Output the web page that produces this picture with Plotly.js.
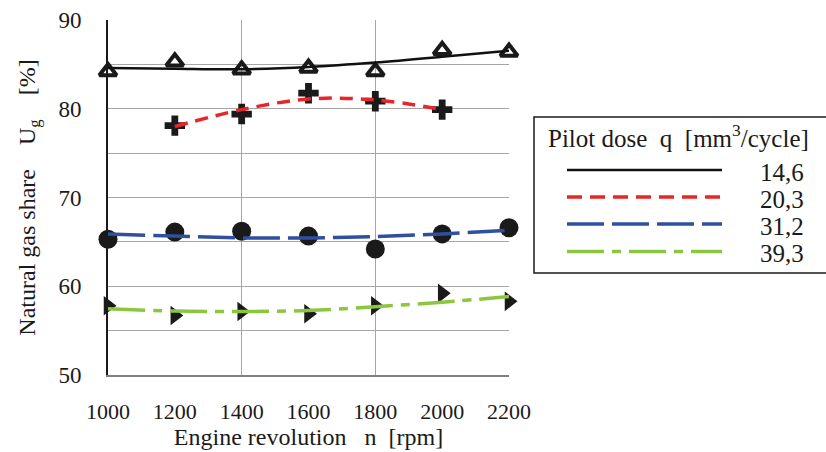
<!DOCTYPE html>
<html>
<head>
<meta charset="utf-8">
<script src="https://cdn.plot.ly/plotly-3.0.1.min.js"></script>
<style>
  html, body { margin: 0; padding: 0; background: #fff; }
  #chart { width: 826px; height: 452px; }
</style>
</head>
<body>
<div id="chart"></div>
<script>
// Engine speed points [rpm]
const rpm = [1000, 1200, 1400, 1600, 1800, 2000, 2200];
const rpm203 = [1200, 1400, 1600, 1800, 2000];

// Measured natural gas share U_g [%] for each pilot dose
const meas146 = [84.2, 85.3, 84.4, 84.6, 84.2, 86.6, 86.4];
const meas203 = [78.1, 79.4, 81.75, 80.85, 79.9];
const meas312 = [65.3, 66.1, 66.2, 65.65, 64.2, 65.9, 66.6];
const meas393 = [57.8, 56.7, 57.15, 56.9, 57.8, 59.2, 58.3];

// Trend curves through the measured points
const trend146 = [84.6, 84.5, 84.45, 84.7, 85.2, 85.85, 86.55];
const trend203 = [78.0, 79.9, 81.1, 81.0, 79.9];
const trend312 = [65.9, 65.65, 65.45, 65.45, 65.6, 65.9, 66.3];
const trend393 = [57.46, 57.2, 57.15, 57.27, 57.7, 58.2, 58.85];

// Legend entries
const doseLabels = ['14,6', '20,3', '31,2', '39,3'];
const legendTitle = 'Pilot dose\u00A0\u00A0q\u00A0\u00A0[mm<sup>3</sup>/cycle]';

const xTicks = [1000, 1200, 1400, 1600, 1800, 2000, 2200];
const xGrid = [1400, 1800, 2200];

const FONT = 'Liberation Serif, Times New Roman, serif';
const INK = '#1a1a1a';
const colors = ['#111111', '#e8262a', '#2f4f9f', '#8cc63f'];
const dashes = ['solid', '13px,8px', '37px,8px', '37px,8px,9px,8px'];
const legendDashes = ['solid', '15px,8px', '37px,8px', '37px,8px,9px,8px'];

const W = 826, H = 452;
const M = { l: 108, r: 317, t: 20, b: 77 };
const pw = W - M.l - M.r, ph = H - M.t - M.b;
const px = x => (x - M.l) / pw;
const py = y => (H - M.b - y) / ph;

function markers(x, y, symbol, size) {
  return {
    x: x, y: y, type: 'scatter', mode: 'markers', cliponaxis: false,
    showlegend: false, hoverinfo: 'skip',
    marker: { symbol: symbol, size: size, color: INK, line: { width: 0, color: INK } }
  };
}
function trend(x, y, i) {
  return {
    x: x, y: y, type: 'scatter', mode: 'lines', cliponaxis: false,
    showlegend: false, hoverinfo: 'skip',
    line: { color: colors[i], width: i === 0 ? 2.5 : 3.5, dash: dashes[i], shape: 'spline', smoothing: 1 }
  };
}

const tri = markers(rpm, meas146, 'triangle-up-open', 15);
tri.marker.line = { width: 4, color: INK };

const data = [
  tri,
  markers(rpm203, meas203, 'cross', 17),
  markers(rpm, meas312, 'circle', 19),
  markers(rpm, meas393, 'triangle-right', 17),
  trend(rpm, trend146, 0),
  trend(rpm203, trend203, 1),
  trend(rpm, trend312, 2),
  trend(rpm, trend393, 3)
];

// Legend box, sample lines and labels
const shapes = [{
  type: 'rect', xref: 'paper', yref: 'paper',
  x0: px(534), x1: px(840), y0: py(273), y1: py(117),
  line: { color: INK, width: 1.5 }, fillcolor: 'rgba(0,0,0,0)'
}];
const annotations = [{
  xref: 'paper', yref: 'paper', x: px(546), y: py(136), xanchor: 'left', yanchor: 'middle',
  text: legendTitle, showarrow: false, font: { family: FONT, size: 25, color: INK }
}];
const rowY = [170, 197, 224, 251.5];
doseLabels.forEach((lab, i) => {
  shapes.push({
    type: 'line', xref: 'paper', yref: 'paper',
    x0: px(567), x1: px(722), y0: py(rowY[i]), y1: py(rowY[i]),
    line: { color: colors[i], width: i === 0 ? 2.5 : 3.5, dash: legendDashes[i] }
  });
  annotations.push({
    xref: 'paper', yref: 'paper', x: px(758), y: py(rowY[i] + 2), xanchor: 'left', yanchor: 'middle',
    text: lab, showarrow: false, font: { family: FONT, size: 25, color: INK }
  });
});

const layout = {
  width: W, height: H,
  margin: M,
  paper_bgcolor: '#fff', plot_bgcolor: '#fff',
  font: { family: FONT, size: 22, color: INK },
  showlegend: false,
  xaxis: {
    range: [1000, 2200], tickvals: xTicks, ticktext: xTicks.map(String),
    showgrid: false, zeroline: false,
    showline: true, linecolor: '#808080', linewidth: 1.5,
    ticks: '', ticklabelstandoff: 16,
    tickfont: { family: FONT, size: 22, color: INK },
    minor: { tickvals: xGrid, showgrid: true, gridcolor: '#a6a6a6', gridwidth: 1.2, ticks: '' },
    title: { text: 'Engine revolution\u00A0\u00A0\u00A0n\u00A0\u00A0[rpm]', font: { family: FONT, size: 24, color: INK }, standoff: 2 }
  },
  yaxis: {
    range: [50, 90], dtick: 10, tick0: 50,
    showgrid: true, gridcolor: '#a6a6a6', gridwidth: 1.2, zeroline: false,
    showline: true, linecolor: INK, linewidth: 1.8,
    ticks: '', ticklabelstandoff: 20,
    tickfont: { family: FONT, size: 23, color: INK },
    minor: { dtick: 5, showgrid: true, gridcolor: '#a6a6a6', gridwidth: 1.2, ticks: '' },
    title: { text: 'Natural gas share\u00A0\u00A0\u00A0\u00A0U<sub>g</sub>\u00A0\u00A0\u00A0\u00A0[%]', font: { family: FONT, size: 24, color: INK }, standoff: 16 }
  },
  shapes: shapes,
  annotations: annotations
};

Plotly.newPlot('chart', data, layout, { displayModeBar: false, staticPlot: true });
</script>
</body>
</html>
